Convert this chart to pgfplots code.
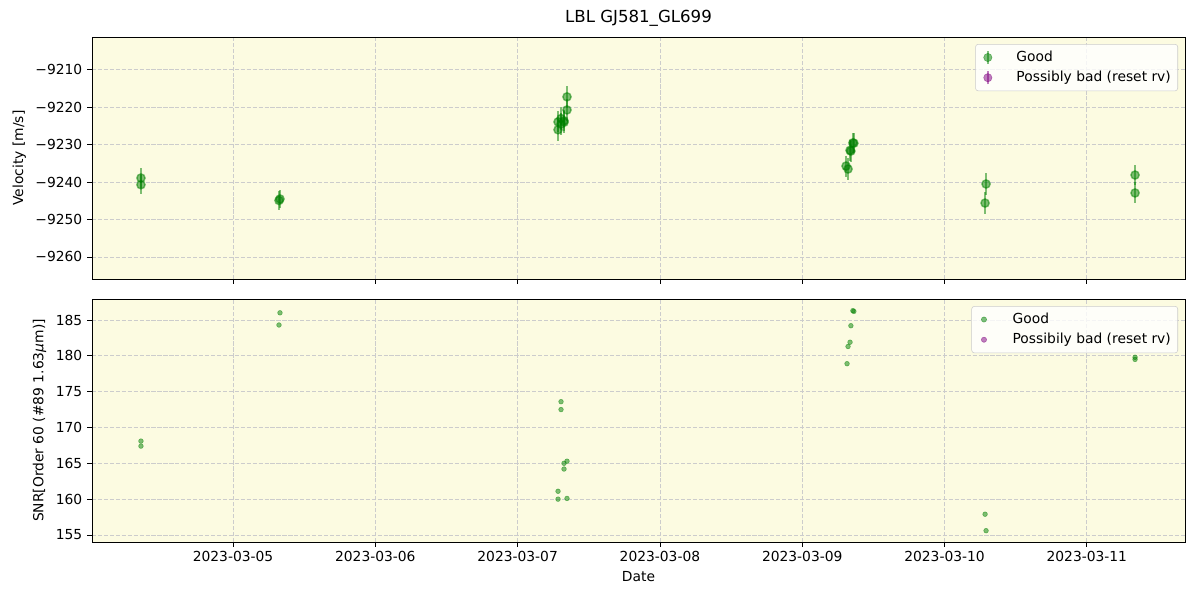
\documentclass[border=0pt]{standalone}
\usepackage{fontspec}
\setmainfont{DejaVu Sans}
\usepackage{pgfplots}
\pgfplotsset{compat=1.18}
\definecolor{mplgreen}{RGB}{0,128,0}
\definecolor{mplpurple}{RGB}{128,0,128}
\definecolor{bgyellow}{RGB}{252,251,225}
\definecolor{gridgray}{RGB}{204,204,204}
\pgfplotsset{
 mystyle/.style={
  scale only axis, width=10.93in, height=2.42in,
  xmin=0.009, xmax=7.69,
  xtick={1,2,3,4,5,6,7},
  axis background/.style={fill=bgyellow},
  grid=major,
  major grid style={gridgray, dash pattern=on 3pt off 1.3pt, line width=0.6pt},
  tick align=outside, tick pos=left,
  major tick length=3.5pt,
  every tick/.style={black, line width=0.6pt},
  axis line style={line width=0.6pt},
  tick label style={font=\fontsize{10}{12}\selectfont},
  label style={font=\fontsize{10}{12}\selectfont},
  /pgf/number format/assume math mode=true,
  legend cell align=left,
  legend style={at={(0.9936,0.971)}, anchor=north east, draw=gridgray, rounded corners=2pt,
    fill=white, fill opacity=0.8, text opacity=1, font=\fontsize{10}{12}\selectfont,
    row sep=1.5pt, inner sep=3pt},
 }
}
\pgfplotstableread{
x y e
0.353 -9238.9 2.6
0.353 -9240.7 2.6
1.330 -9244.5 2.5
1.323 -9244.9 2.6
3.284 -9226.0 2.9
3.284 -9223.9 2.8
3.305 -9223.0 3.0
3.305 -9224.5 3.0
3.326 -9223.6 2.8
3.326 -9224.0 2.9
3.347 -9220.7 2.9
3.347 -9217.2 2.9
5.356 -9229.5 2.7
5.363 -9229.6 2.7
5.342 -9231.7 2.8
5.336 -9231.5 2.8
5.308 -9235.7 2.8
5.322 -9236.5 2.9
6.292 -9240.5 3.0
6.285 -9245.6 3.0
7.339 -9238.1 2.8
7.339 -9242.9 2.8
}\velo
\pgfplotstableread{
x y
0.353 168.1
0.353 167.4
1.330 186.0
1.323 184.3
3.305 173.6
3.305 172.5
3.347 165.3
3.326 165.0
3.326 164.2
3.284 161.1
3.284 160.0
3.347 160.1
5.356 186.3
5.363 186.2
5.342 184.2
5.336 181.9
5.322 181.3
5.315 178.9
6.285 157.9
6.292 155.6
7.339 179.8
7.339 179.5
}\snr
\begin{document}
\begin{tikzpicture}
\useasboundingbox (0,0) rectangle (12in,6in);
\begin{axis}[mystyle, at={(0.92in,3.21in)}, anchor=south west,
  ymin=-9265.9, ymax=-9201.2,
  ytick={-9260,-9250,-9240,-9230,-9220,-9210},
  yticklabels={−9260,−9250,−9240,−9230,−9220,−9210},
  xticklabels={},
  ylabel={Velocity [m/s]},
  title={LBL GJ581\_GL699},
  title style={font=\fontsize{12}{14}\selectfont, yshift=-2pt},
]
\addlegendimage{mplgreen, opacity=0.5, legend image code/.code={
  \path (0cm,0cm) (0.85cm,0cm);
  \draw[line width=1.5pt] (0.2cm,-0.17cm)--(0.2cm,0.17cm);
  \filldraw (0.2cm,0cm) circle (3pt);}}
\addlegendentry{Good}
\addlegendimage{mplpurple, opacity=0.5, legend image code/.code={
  \path (0cm,0cm) (0.85cm,0cm);
  \draw[line width=1.5pt] (0.2cm,-0.17cm)--(0.2cm,0.17cm);
  \filldraw (0.2cm,0cm) circle (3pt);}}
\addlegendentry{Possibly bad (reset rv)}
\addplot[only marks, mark=*, mark size=3pt,
  mark options={fill=mplgreen, draw=mplgreen, opacity=0.5, line width=1pt},
  forget plot,
  error bars/.cd, y dir=both, y explicit,
  error bar style={line width=1.5pt, mplgreen, opacity=0.5}, error mark=none]
  table[x=x, y=y, y error=e] {\velo};
\end{axis}
\begin{axis}[mystyle, at={(0.92in,0.58in)}, anchor=south west, height=2.43in,
  ymin=154.02, ymax=187.93,
  ytick={155,160,165,170,175,180,185},
  xticklabels={2023-03-05,2023-03-06,2023-03-07,2023-03-08,2023-03-09,2023-03-10,2023-03-11},
  ylabel={SNR[Order 60 (\#89 1.63{\itshape μ}m)]},
  xlabel={Date},
]
\addlegendimage{mplgreen, opacity=0.5, legend image code/.code={
  \path (0cm,0cm) (0.85cm,0cm);
  \filldraw (0.2cm,0cm) circle (1.9pt);}}
\addlegendentry{Good}
\addlegendimage{mplpurple, opacity=0.5, legend image code/.code={
  \path (0cm,0cm) (0.85cm,0cm);
  \filldraw (0.2cm,0cm) circle (1.9pt);}}
\addlegendentry{Possibily bad (reset rv)}
\addplot[only marks, mark=*, mark size=1.7pt,
  mark options={fill=mplgreen, draw=mplgreen, opacity=0.5}, forget plot]
  table[x=x, y=y] {\snr};
\end{axis}
\end{tikzpicture}
\end{document}
